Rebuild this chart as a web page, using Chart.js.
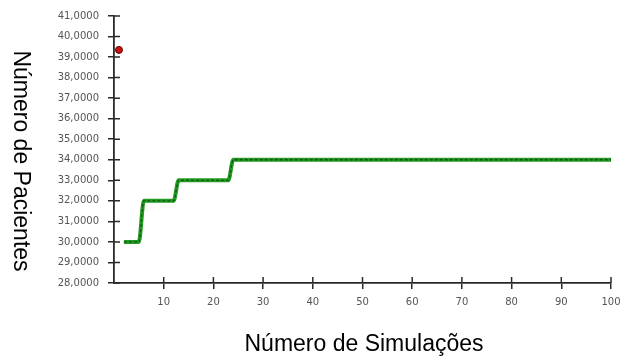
<!DOCTYPE html>
<html>
<head>
<meta charset="utf-8">
<script src="https://cdn.jsdelivr.net/npm/chart.js@4.4.1/dist/chart.umd.min.js"></script>
<style>
  html, body { margin: 0; padding: 0; background: #fff; }
  #wrap { width: 621px; height: 358px; position: relative; }
</style>
</head>
<body>
<div id="wrap"><canvas id="simChart" width="621" height="358"></canvas></div>
<script>
// valores
const simulacoes = [2, 5, 6, 12, 13, 23, 24, 100];
const pacientes = [30, 30, 32, 32, 33, 33, 34, 34];
const pontoX = [1];
const pontoY = [39.35];
const yTicks = [28, 29, 30, 31, 32, 33, 34, 35, 36, 37, 38, 39, 40, 41];
const xTicks = [10, 20, 30, 40, 50, 60, 70, 80, 90, 100];

const linha = simulacoes.map((x, i) => ({ x: x, y: pacientes[i] }));
const ponto = pontoX.map((x, i) => ({ x: x, y: pontoY[i] }));

const axisColor = "#2a2a2a";
const labelFont = { family: "DejaVu Sans", size: 10 };

// desenha a metade interna das marcas (cruzando o eixo) e os títulos
const extras = {
  id: "extras",
  afterDraw(chart) {
    const ctx = chart.ctx;
    const xs = chart.scales.x;
    const ys = chart.scales.y;
    const area = chart.chartArea;
    ctx.save();
    ctx.strokeStyle = axisColor;
    ctx.lineWidth = 1.5;
    ctx.beginPath();
    yTicks.forEach((v) => {
      const py = ys.getPixelForValue(v);
      ctx.moveTo(area.left, py);
      ctx.lineTo(area.left + 6, py);
    });
    xTicks.forEach((v) => {
      const px = xs.getPixelForValue(v);
      ctx.moveTo(px, area.bottom);
      ctx.lineTo(px, area.bottom - 6);
    });
    ctx.stroke();

    ctx.fillStyle = "#000";
    ctx.font = "23px 'Liberation Sans', Arial, sans-serif";
    ctx.textAlign = "center";
    ctx.textBaseline = "middle";
    ctx.fillText("Número de Simulações", 364, 345);

    ctx.translate(20, 161);
    ctx.rotate(Math.PI / 2);
    ctx.fillText("Número de Pacientes", 0, 0);
    ctx.restore();
  },
};

const simCtx = document.getElementById("simChart").getContext("2d");
const simChart = new Chart(simCtx, {
  type: "line",
  data: {
    datasets: [
      {
        data: linha,
        order: 2,
        borderColor: "#239a23",
        borderWidth: 4,
        pointRadius: 0,
        cubicInterpolationMode: "monotone",
      },
      {
        data: linha,
        order: 1,
        borderColor: "#0d5a0d",
        borderWidth: 1.3,
        borderDash: [3, 2],
        pointRadius: 0,
        cubicInterpolationMode: "monotone",
      },
      {
        data: ponto,
        order: 0,
        showLine: false,
        pointRadius: 3.5,
        pointBackgroundColor: "#cc1111",
        pointBorderColor: "#5a0000",
        pointBorderWidth: 1,
      },
    ],
  },
  options: {
    responsive: false,
    animation: false,
    layout: { padding: { left: 0, right: 0, top: 16, bottom: 0 } },
    plugins: {
      legend: { display: false },
      tooltip: { enabled: false },
    },
    scales: {
      x: {
        type: "linear",
        min: 0,
        max: 100,
        afterFit: (scale) => {
          scale.height = 75;
          scale.paddingLeft = 0;
          scale.paddingRight = 10;
        },
        afterBuildTicks: (scale) => {
          scale.ticks = xTicks.map((v) => ({ value: v }));
        },
        border: { color: axisColor, width: 1.8 },
        grid: {
          display: true,
          drawOnChartArea: false,
          drawTicks: true,
          tickLength: 6,
          color: axisColor,
          lineWidth: 1.5,
        },
        ticks: {
          color: "#555",
          font: labelFont,
          padding: 7,
          maxRotation: 0,
          autoSkip: false,
        },
      },
      y: {
        min: 28,
        max: 41,
        afterFit: (scale) => { scale.width = 114; },
        afterBuildTicks: (scale) => {
          scale.ticks = yTicks.map((v) => ({ value: v }));
        },
        border: { color: axisColor, width: 1.8 },
        grid: {
          display: true,
          drawOnChartArea: false,
          drawTicks: true,
          tickLength: 6,
          color: axisColor,
          lineWidth: 1.5,
        },
        ticks: {
          color: "#555",
          font: labelFont,
          padding: 9,
          autoSkip: false,
          callback: (v) => v.toFixed(4).replace(".", ","),
        },
      },
    },
  },
  plugins: [extras],
});
</script>
</body>
</html>
